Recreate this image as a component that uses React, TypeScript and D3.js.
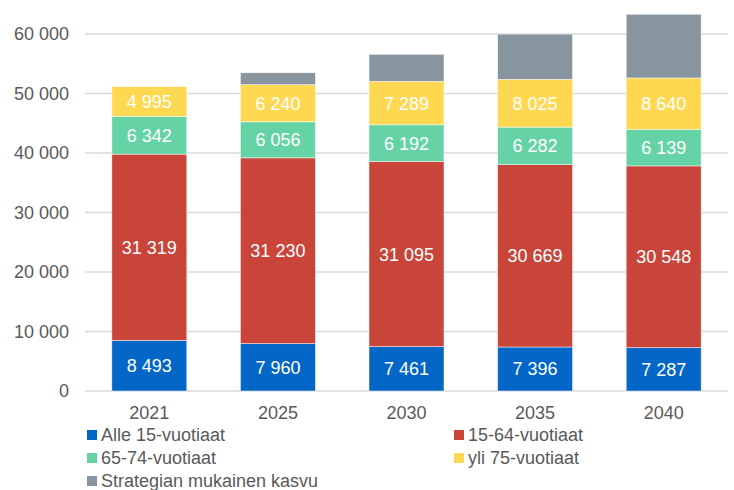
import React from 'react';
import * as d3 from 'd3';

const years = ['2021', '2025', '2030', '2035', '2040'];
const alle15 = [8493, 7960, 7461, 7396, 7287];
const age15to64 = [31319, 31230, 31095, 30669, 30548];
const age65to74 = [6342, 6056, 6192, 6282, 6139];
const yli75 = [4995, 6240, 7289, 8025, 8640];
const strategia = [0, 2000, 4550, 7600, 10700];
const yTicks = [0, 10000, 20000, 30000, 40000, 50000, 60000];

const series = [
  { name: 'Alle 15-vuotiaat', values: alle15, color: '#0466C6', label: true },
  { name: '15-64-vuotiaat', values: age15to64, color: '#C9453A', label: true },
  { name: '65-74-vuotiaat', values: age65to74, color: '#66D3A6', label: true },
  { name: 'yli 75-vuotiaat', values: yli75, color: '#FFD852', label: true },
  { name: 'Strategian mukainen kasvu', values: strategia, color: '#89959E', label: false },
];

const W = 734;
const H = 490;
const FONT = 'Arial, "Liberation Sans", sans-serif';
const TEXT = '#595959';

const fmt = d3.formatLocale({ decimal: ',', thousands: ' ', grouping: [3], currency: ['', ''] }).format(',d');

const App = () => {
  const x = d3.scaleBand<string>()
    .domain(years)
    .range([85, 728])
    .paddingInner(0.417)
    .paddingOuter(0.2085);

  const y = d3.scaleLinear().domain([0, 60000]).range([391, 34]);

  const table = years.map((yr, i) => {
    const row: Record<string, any> = { year: yr };
    series.forEach(s => { row[s.name] = s.values[i]; });
    return row;
  });
  const stack = d3.stack<any>().keys(series.map(s => s.name))(table);

  const legend = [
    { s: series[0], lx: 87, ly: 441 },
    { s: series[1], lx: 454, ly: 441 },
    { s: series[2], lx: 87, ly: 464 },
    { s: series[3], lx: 454, ly: 464 },
    { s: series[4], lx: 87, ly: 487 },
  ];

  return (
    <svg width={W} height={H} style={{ position: 'absolute', left: 0, top: 0 }} fontFamily={FONT}>
      <rect width={W} height={H} fill="#fff" />
      {yTicks.map(t => (
        <g key={t}>
          <line x1={85} x2={728} y1={y(t)} y2={y(t)} stroke="#D9D9D9" strokeWidth={1.5} />
          <text x={69} y={y(t)} dy="0.35em" textAnchor="end" fontSize={18} fill={TEXT}>{fmt(t)}</text>
        </g>
      ))}
      {stack.map((layer, si) => (
        <g key={layer.key}>
          {layer.map((d, i) => {
            const v = d[1] - d[0];
            if (v <= 0) return null;
            const y0 = y(d[0]);
            const y1 = y(d[1]);
            return (
              <g key={i}>
                <rect x={x(years[i])} y={y1} width={x.bandwidth()} height={y0 - y1}
                  fill={series[si].color} stroke="#fff" strokeOpacity={0.6} strokeWidth={0.8} />
                {series[si].label && (
                  <text x={x(years[i])! + x.bandwidth() / 2} y={(y0 + y1) / 2} dy="0.36em"
                    textAnchor="middle" fontSize={18} fill="#fff">{fmt(v)}</text>
                )}
              </g>
            );
          })}
        </g>
      ))}
      {years.map(yr => (
        <text key={yr} x={x(yr)! + x.bandwidth() / 2} y={419} textAnchor="middle" fontSize={18} fill={TEXT}>{yr}</text>
      ))}
      {legend.map(({ s, lx, ly }) => (
        <g key={s.name}>
          <rect x={lx} y={ly - 11} width={10} height={10} fill={s.color} />
          <text x={lx + 14} y={ly} fontSize={18} fill={TEXT}>{s.name}</text>
        </g>
      ))}
    </svg>
  );
};

export default App;
